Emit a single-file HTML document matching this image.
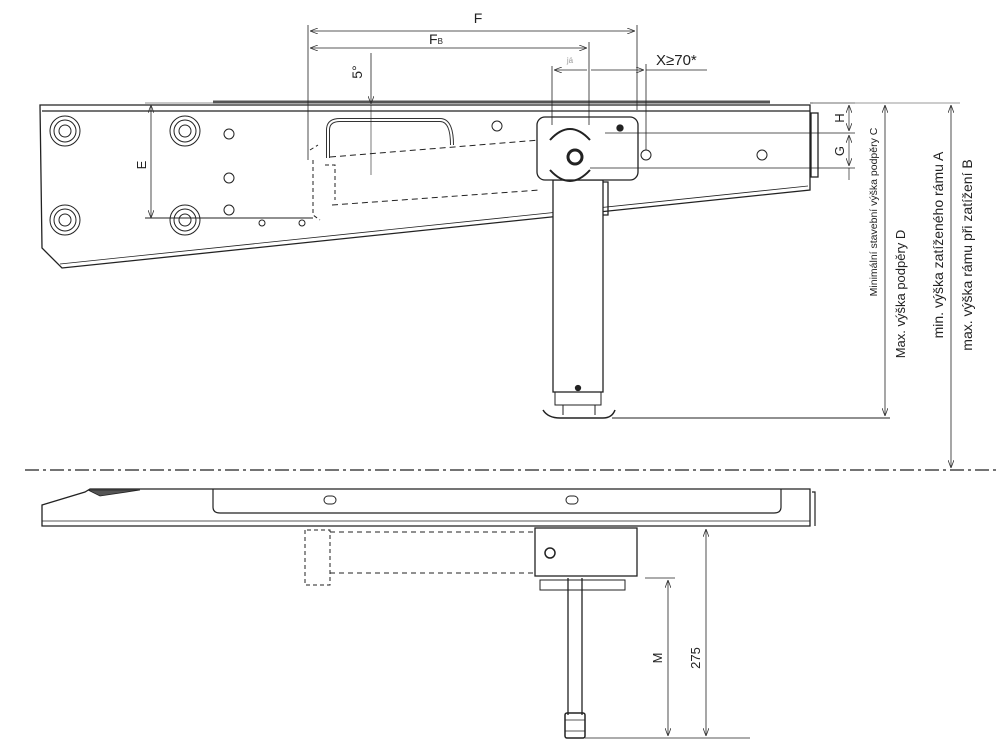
<!DOCTYPE html>
<html><head><meta charset="utf-8"><style>
html,body{margin:0;padding:0;background:#fff;}
svg{display:block;font-family:"Liberation Sans",sans-serif;}
</style></head><body>
<svg width="1000" height="752" viewBox="0 0 1000 752" xmlns="http://www.w3.org/2000/svg">
<defs>
<marker id="a" markerWidth="8" markerHeight="6" refX="8" refY="3" orient="auto-start-reverse" markerUnits="userSpaceOnUse"><path d="M0,0 L8,3 L0,6" fill="none" stroke="#333" stroke-width="0.8"/></marker>
</defs>
<g stroke="#222" fill="none" stroke-width="1.3">
<!-- upper frame -->
<path d="M40,105 L810,105 L810,190 L62,268 L42,248 Z" fill="#fff"/>
<path d="M42,111 L810,111"/>
<path d="M213,102 L770,102" stroke-width="3" stroke="#555"/>
<path d="M60,264 L808,186" stroke-width="0.8"/>
<rect x="811" y="113" width="7" height="64"/>
<!-- bolts -->
<g stroke-width="1">
<circle cx="65" cy="131" r="15"/><circle cx="65" cy="131" r="11"/><circle cx="65" cy="131" r="6"/>
<circle cx="185" cy="131" r="15"/><circle cx="185" cy="131" r="11"/><circle cx="185" cy="131" r="6"/>
<circle cx="65" cy="220" r="15"/><circle cx="65" cy="220" r="11"/><circle cx="65" cy="220" r="6"/>
<circle cx="185" cy="220" r="15"/><circle cx="185" cy="220" r="11"/><circle cx="185" cy="220" r="6"/>
<circle cx="229" cy="134" r="5"/><circle cx="229" cy="178" r="5"/><circle cx="229" cy="210" r="5"/>
<circle cx="497" cy="126" r="5"/><circle cx="762" cy="155" r="5"/><circle cx="646" cy="155" r="5"/>
<circle cx="262" cy="223" r="3"/><circle cx="302" cy="223" r="3"/>
</g>
<!-- E dim -->
<path d="M151,105 L151,218" stroke-width="0.8" marker-start="url(#a)" marker-end="url(#a)"/>
<path d="M145,218 L313,218" stroke-width="1"/>
<path d="M145,103 L213,103" stroke-width="0.6"/>
<!-- handle -->
<path d="M328,158 L328,130 Q328,120 340,120 L440,120 Q452,120 452,145" stroke-width="4" stroke="#333"/>
<path d="M328,158 L328,130 Q328,120 340,120 L440,120 Q452,120 452,145" stroke-width="2" stroke="#fff"/>
<!-- dashed -->
<path d="M330,157 L540,140 M332,205 L540,190" stroke-dasharray="6,4" stroke-width="1"/>
<path d="M310,150 L318,145 M313,160 L313,215 L320,220 M325,165 L335,165 L335,200" stroke-dasharray="4,3" stroke-width="1"/>
<!-- leg -->
<rect x="553" y="180" width="50" height="212" fill="#fff"/>
<path d="M603,182 L608,182 L608,215 L603,215"/>
<circle cx="578" cy="388" r="2.5" fill="#222"/>
<path d="M555,392 L601,392 L601,405 L555,405 Z" stroke-width="1"/>
<path d="M543,410 Q548,418 560,418 L603,418 Q612,418 615,410" stroke-width="1.5"/>
<path d="M563,405 L563,415 M595,405 L595,415" stroke-width="1"/>
<!-- bracket box -->
<rect x="537" y="117" width="101" height="63" rx="8" fill="#fff"/>
<path d="M550,140 Q570,118 590,140 M550,170 Q570,192 590,170" stroke-width="2"/>
<circle cx="575" cy="157" r="7" stroke-width="3"/>
<circle cx="620" cy="128" r="3" fill="#222"/>
<!-- G/H -->
<path d="M605,133 L855,133 M590,168 L855,168 M810,103 L855,103" stroke-width="0.8"/>
<path d="M849,105 L849,131" stroke-width="0.7" marker-start="url(#a)" marker-end="url(#a)"/>
<path d="M849,135 L849,166" stroke-width="0.7" marker-start="url(#a)" marker-end="url(#a)"/>
<path d="M849,168 L849,180" stroke-width="0.7"/>
<!-- right dims -->
<path d="M813,103 L960,103" stroke-width="0.8" stroke="#777"/>
<path d="M885,105 L885,416" stroke-width="0.8" marker-start="url(#a)" marker-end="url(#a)"/>
<path d="M951,105 L951,468" stroke-width="0.8" marker-start="url(#a)" marker-end="url(#a)"/>
<path d="M612,418 L890,418" stroke-width="1"/>
<!-- top dims -->
<path d="M308,25 L308,160 M637,25 L637,110 M589,42 L589,125 M552,66 L552,125 M646,64 L646,150" stroke-width="0.8"/>
<path d="M310,31 L635,31" stroke-width="0.8" marker-start="url(#a)" marker-end="url(#a)"/>
<path d="M310,48 L587,48" stroke-width="0.8" marker-start="url(#a)" marker-end="url(#a)"/>
<path d="M554,70 L587,70 M591,70 L644,70" stroke-width="0.8" marker-start="url(#a)" marker-end="url(#a)"/>
<path d="M646,70 L707,70" stroke-width="0.8"/>
<path d="M371,53 L371,104" stroke-width="0.8" marker-end="url(#a)"/>
<path d="M371,105 L371,175" stroke-width="0.6"/>
<!-- dash-dot separator -->
<path d="M25,470 L1000,470" stroke-width="1.3" stroke-dasharray="14,4,3,4"/>
<!-- lower rail -->
<path d="M42,505 L85,492 L90,489 L810,489 L810,526 L42,526 Z" fill="#fff"/>
<path d="M42,521 L810,521" stroke-width="0.8"/>
<path d="M88,490 L140,490 L100,496 Z" fill="#555" stroke-width="0.8"/>
<path d="M213,489 L213,507 Q213,513 220,513 L774,513 Q781,513 781,507 L781,489" stroke-width="1.2"/>
<rect x="324" y="496" width="12" height="8" rx="4" stroke-width="1"/>
<rect x="566" y="496" width="12" height="8" rx="4" stroke-width="1"/>
<path d="M812,492 L815,492 L815,526" stroke-width="1.2"/>
<!-- lower box -->
<rect x="535" y="528" width="102" height="48" fill="#fff"/>
<circle cx="550" cy="553" r="5" stroke-width="1.5"/>
<path d="M540,580 L625,580 L625,590 L540,590 Z" stroke-width="1"/>
<path d="M330,532 L535,532 M330,573 L535,573" stroke-dasharray="5,4" stroke-width="1"/>
<path d="M305,530 L305,585 L330,585 L330,530 Z" stroke-dasharray="4,3" stroke-width="1"/>
<!-- lower leg -->
<path d="M568,578 L568,715 M582,578 L582,715" stroke-width="1.3"/>
<rect x="565" y="713" width="20" height="25" rx="2" stroke-width="1.5"/>
<path d="M565,720 L585,720 M565,731 L585,731" stroke-width="0.8"/>
<path d="M645,578 L675,578 M585,738 L750,738" stroke-width="0.8"/>
<path d="M668,580 L668,736" stroke-width="0.8" marker-start="url(#a)" marker-end="url(#a)"/>
<path d="M706,529 L706,736" stroke-width="0.8" marker-start="url(#a)" marker-end="url(#a)"/>
</g>
<g fill="#222" font-size="14">
<text x="478" y="23" text-anchor="middle">F</text>
<text x="436" y="44" text-anchor="middle">F<tspan font-size="8">B</tspan></text>
<text x="570" y="63" font-size="8" fill="#999" text-anchor="middle">já</text>
<text x="656" y="65" font-size="15">X≥70*</text>
<text transform="translate(362,72) rotate(-90)" text-anchor="middle" font-size="14">5°</text>
<text transform="translate(146,165) rotate(-90)" text-anchor="middle" font-size="13">E</text>
<text transform="translate(844,118) rotate(-90)" text-anchor="middle" font-size="13">H</text>
<text transform="translate(844,151) rotate(-90)" text-anchor="middle" font-size="13">G</text>
<text transform="translate(877,212) rotate(-90)" text-anchor="middle" font-size="10.5">Minimální stavební výška podpěry C</text>
<text transform="translate(905,294) rotate(-90)" text-anchor="middle" font-size="13">Max. výška podpěry D</text>
<text transform="translate(943,245) rotate(-90)" text-anchor="middle" font-size="14">min. výška zatíženého rámu A</text>
<text transform="translate(972,255) rotate(-90)" text-anchor="middle" font-size="14">max. výška rámu při zatížení B</text>
<text transform="translate(662,658) rotate(-90)" text-anchor="middle" font-size="13">M</text>
<text transform="translate(700,658) rotate(-90)" text-anchor="middle" font-size="13">275</text>
</g>
</svg>
</body></html>
